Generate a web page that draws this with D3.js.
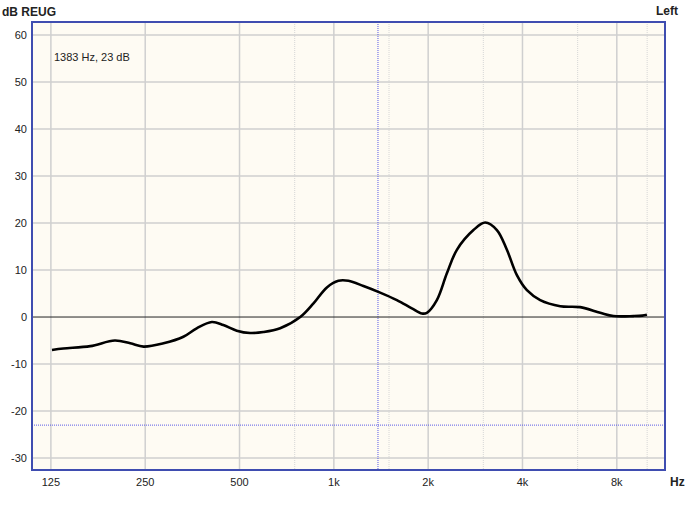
<!DOCTYPE html>
<html><head><meta charset="utf-8">
<script src="https://cdn.jsdelivr.net/npm/d3@7"></script>
<style>
html,body{margin:0;padding:0;background:#fff;}
svg{display:block;}
text{font-family:"Liberation Sans",Arial,sans-serif;fill:#222;}
</style></head>
<body>
<svg id="chart" width="699" height="505"></svg>
<script>
// ---- data ----
const freqs = [126,137,167,200,224,247,286,331,365,408,444,490,540,596,674,781,861,950,1034,1113,1243,1405,1589,1774,1909,1981,2132,2295,2470,2790,3041,3314,3567,3839,4132,4556,5278,6113,7081,7808,9045,9650,9981];
const gains = [-7.0,-6.7,-6.2,-5.0,-5.6,-6.3,-5.6,-4.2,-2.4,-1.05,-1.7,-2.9,-3.4,-3.2,-2.4,0.0,2.9,6.3,7.7,7.7,6.6,5.2,3.6,1.85,0.75,0.9,3.6,9.3,14.3,18.5,20.1,18.5,14.3,8.9,5.7,3.6,2.3,2.1,0.9,0.2,0.2,0.3,0.5];
const xTicks = [125,250,500,1000,2000,4000,8000];
const xTickLabels = ["125","250","500","1k","2k","4k","8k"];
const xMinor = [750,1500,3000,6000,10000];
const yTicks = [-30,-20,-10,0,10,20,30,40,50,60];
const cursorHz = 1383, cursorDb = -23;
const cursorLabel = "1383 Hz, 23 dB";
const yTitle = "dB REUG", xTitle = "Hz", channel = "Left";

// ---- layout ----
const L = 32, R = 665, T = 22, B = 470;
const svg = d3.select("#chart");
const x = d3.scaleLog().domain([108.8, 11400]).range([L, R]);
const y = d3.scaleLinear().domain([-32.55, 62.77]).range([B, T]);

svg.append("rect").attr("x", L).attr("y", T).attr("width", R - L).attr("height", B - T).attr("fill", "#fefbf3");

const g = svg.append("g");
g.selectAll("line.minor").data(xMinor).join("line")
  .attr("x1", d => x(d)).attr("x2", d => x(d)).attr("y1", T).attr("y2", B)
  .attr("stroke", "#d6d6d6").attr("stroke-width", 1).attr("stroke-dasharray", "1,1");
g.selectAll("line.vx").data(xTicks).join("line")
  .attr("x1", d => x(d)).attr("x2", d => x(d)).attr("y1", T).attr("y2", B)
  .attr("stroke", "#cfcfcf").attr("stroke-width", 1.5);
g.selectAll("line.hy").data(yTicks.filter(d => d !== 0)).join("line")
  .attr("x1", L).attr("x2", R).attr("y1", d => y(d)).attr("y2", d => y(d))
  .attr("stroke", "#cfcfcf").attr("stroke-width", 1.5);

svg.append("line").attr("x1", x(cursorHz)).attr("x2", x(cursorHz)).attr("y1", T).attr("y2", B)
  .attr("stroke", "#5a5ae6").attr("stroke-width", 1).attr("stroke-dasharray", "1,1");
svg.append("line").attr("x1", L).attr("x2", R).attr("y1", y(cursorDb)).attr("y2", y(cursorDb))
  .attr("stroke", "#5a5ae6").attr("stroke-width", 1).attr("stroke-dasharray", "1,1");

svg.append("line").attr("x1", L).attr("x2", R).attr("y1", y(0)).attr("y2", y(0))
  .attr("stroke", "#222").attr("stroke-width", 1);

const line = d3.line().x((d, i) => x(freqs[i])).y(d => y(d)).curve(d3.curveCatmullRom.alpha(0.5));
svg.append("path").datum(gains).attr("d", line)
  .attr("fill", "none").attr("stroke", "#000").attr("stroke-width", 2.6).attr("stroke-linejoin", "round");

svg.append("rect").attr("x", L).attr("y", T).attr("width", R - L).attr("height", B - T)
  .attr("fill", "none").attr("stroke", "#3f4db0").attr("stroke-width", 2);

svg.selectAll("text.yt").data(yTicks).join("text")
  .attr("x", 27).attr("y", d => y(d) + 4).attr("text-anchor", "end").attr("font-size", 11).text(d => d);
svg.selectAll("text.xt").data(xTicks).join("text")
  .attr("x", d => x(d)).attr("y", 486).attr("text-anchor", "middle").attr("font-size", 11)
  .text((d, i) => xTickLabels[i]);

svg.append("text").attr("x", 2).attr("y", 16).attr("font-size", 12).attr("font-weight", "bold").text(yTitle);
svg.append("text").attr("x", 678).attr("y", 15).attr("text-anchor", "end").attr("font-size", 12).attr("font-weight", "bold").text(channel);
svg.append("text").attr("x", 670).attr("y", 486).attr("font-size", 12).attr("font-weight", "bold").text(xTitle);
svg.append("text").attr("x", 54).attr("y", 61).attr("font-size", 11).text(cursorLabel);
</script>
</body></html>
